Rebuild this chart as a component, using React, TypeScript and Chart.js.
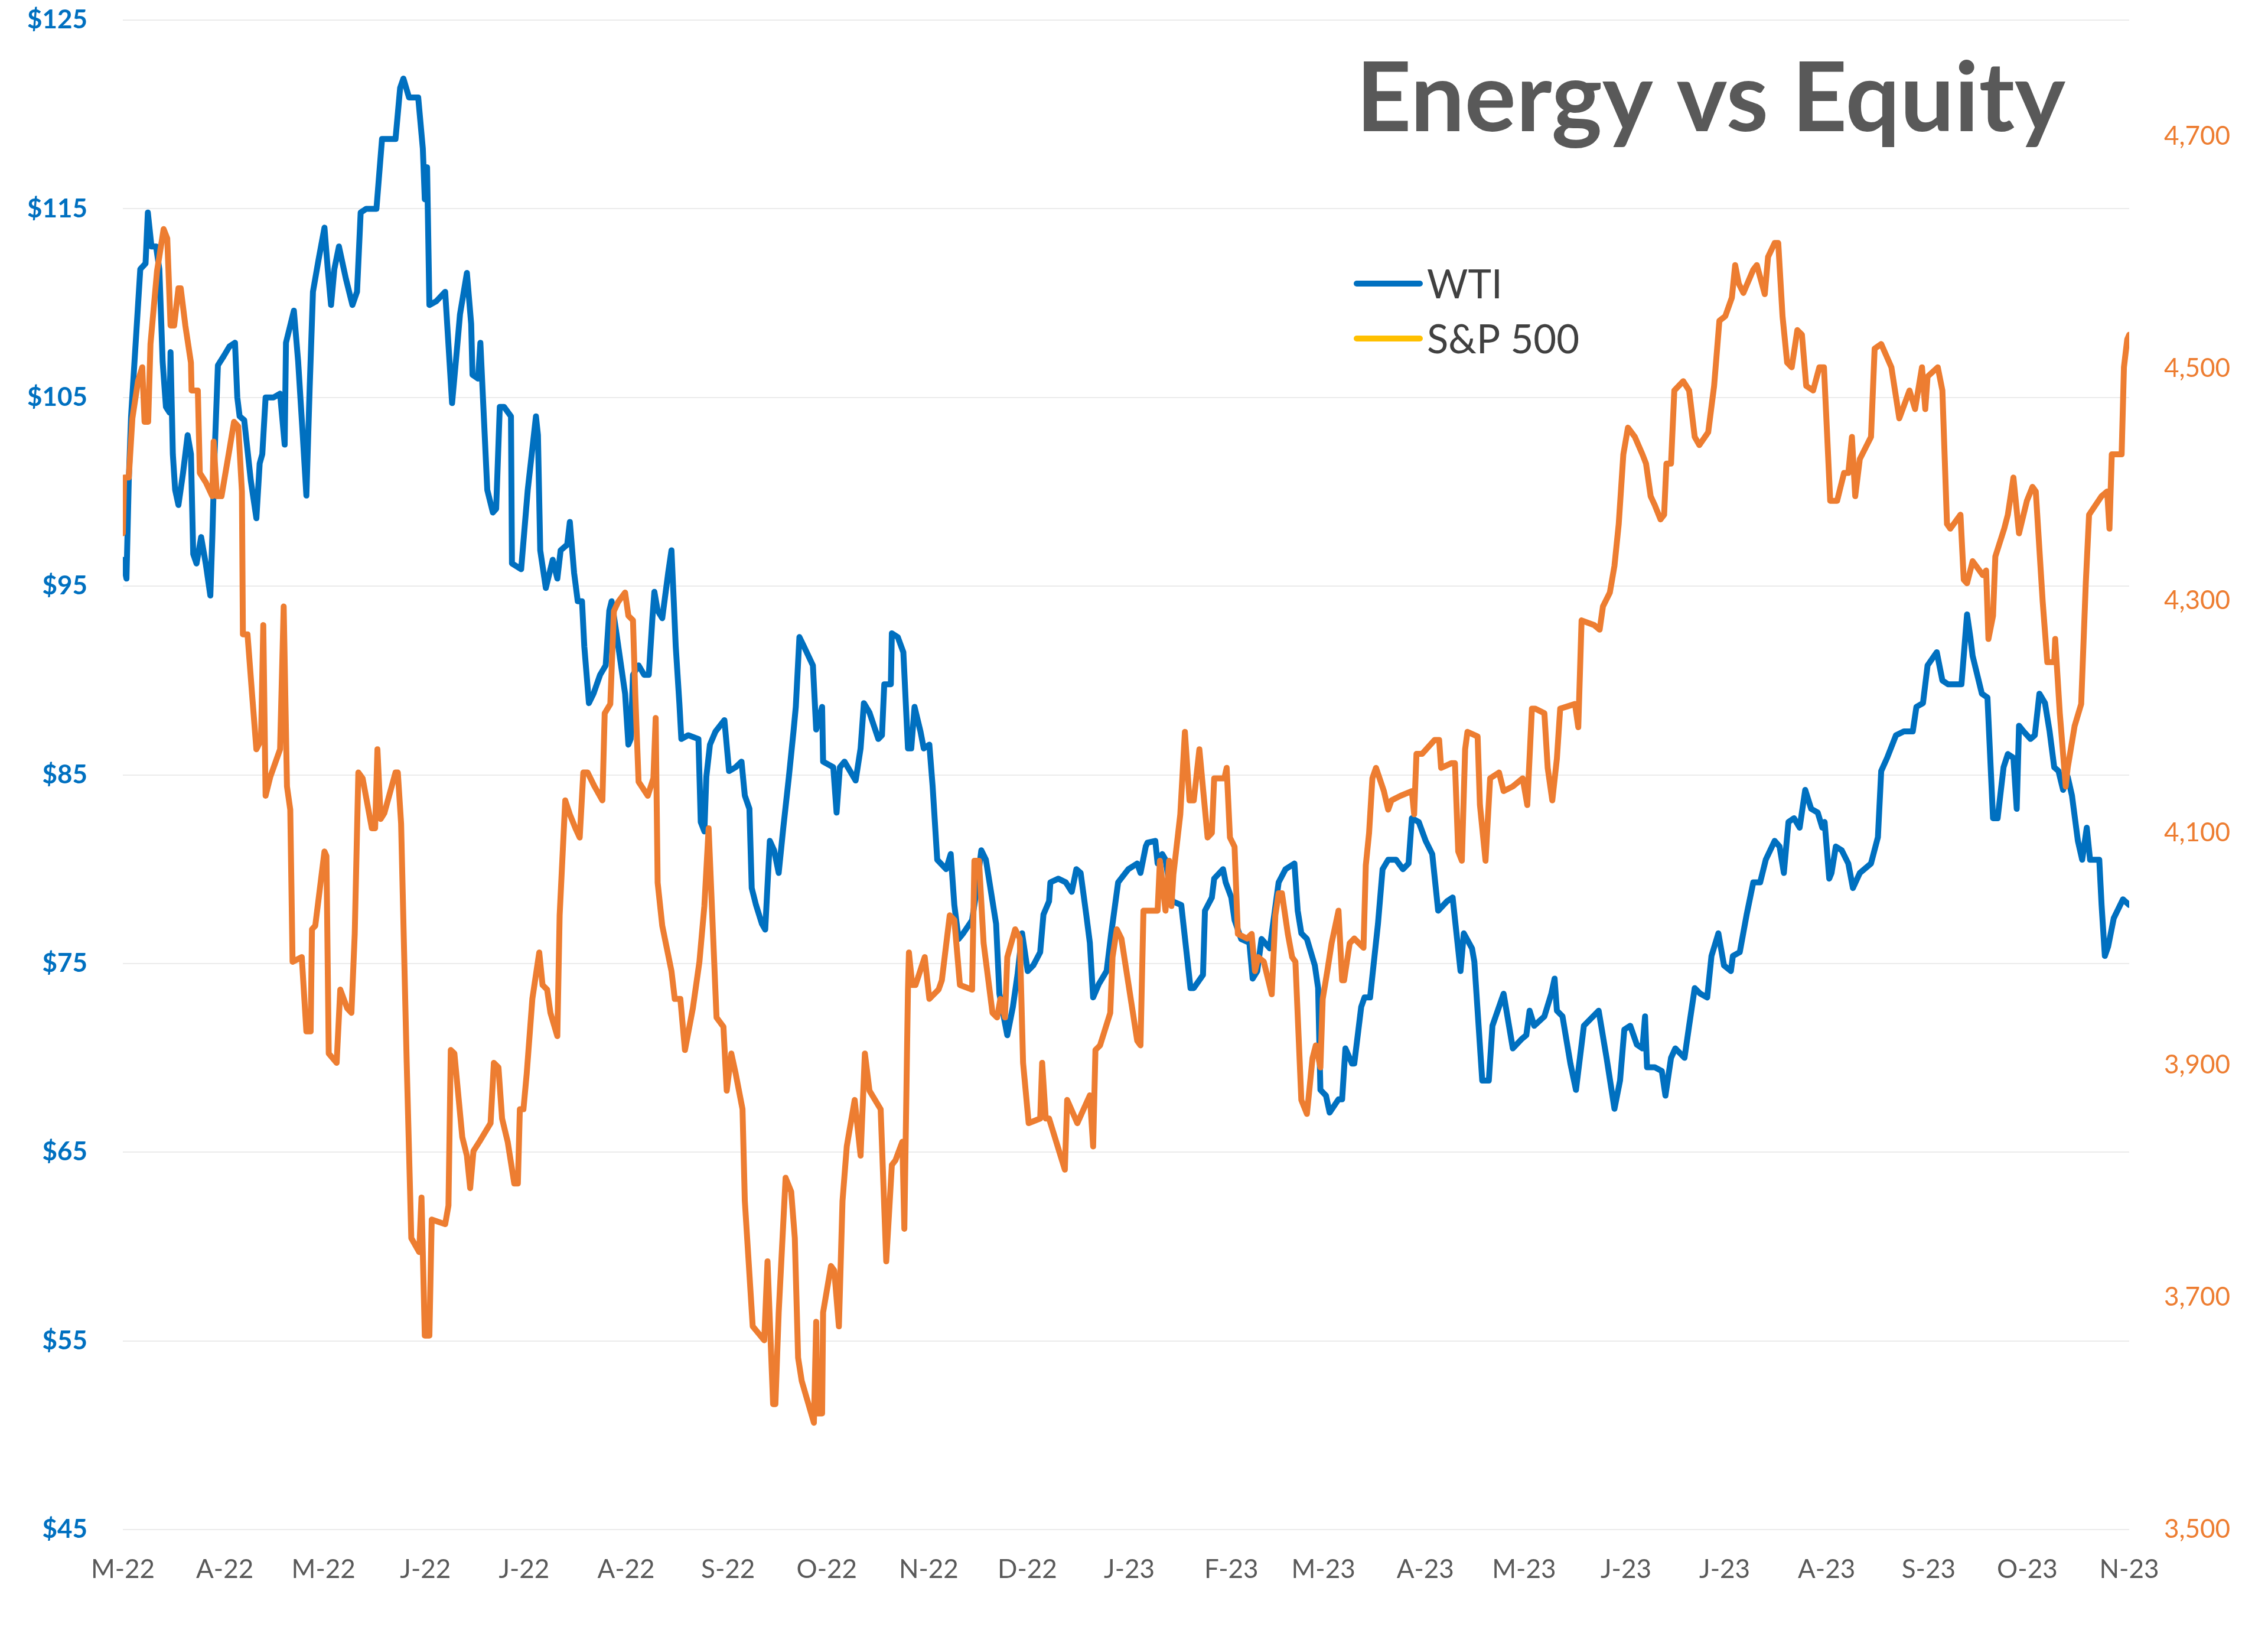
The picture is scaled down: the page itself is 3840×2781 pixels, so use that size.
import React, { useEffect, useRef } from "react";
import { Chart, registerables } from "chart.js";

Chart.register(...registerables);

// ---- Text ----
const chartTitle = "Energy vs Equity";
const wtiLabel = "WTI";
const spxLabel = "S&P 500";

// ---- X axis: days since 1 Mar 2022, month-start ticks ----
const monthTickDays = [0, 31, 61, 92, 122, 153, 184, 214, 245, 275, 306, 337, 365, 396, 426, 457, 487, 518, 549, 579, 610];
const monthTickLabels = ["M-22", "A-22", "M-22", "J-22", "J-22", "A-22", "S-22", "O-22", "N-22", "D-22", "J-23", "F-23", "M-23", "A-23", "M-23", "J-23", "J-23", "A-23", "S-23", "O-23", "N-23"];

// ---- Y axes ----
const wtiTicks = [45, 55, 65, 75, 85, 95, 105, 115, 125];
const spxTicks = [3500, 3700, 3900, 4100, 4300, 4500, 4700];

// ---- Series: [day since 1 Mar 2022, value] ----
const wtiPoints: [number, number][] = [
  [0,96.4],[1.1,95.4],[1.8,100.6],[2.5,104],[5.3,111.8],[6.9,112.1],[7.6,114.8],[8.7,113],[10.1,113],[11.1,111.8],[12.1,106.9],[13.1,104.5],[14.2,104.2],[14.5,107.4],[15.2,102],[15.9,100.1],[16.9,99.3],[18.3,101],[19.7,103],[20.7,102],[21.4,96.7],[22.4,96.2],[23.8,97.6],[25.2,96.2],[26.6,94.5],[27.2,97.6],[27.9,102],[28.9,106.7],[30.7,107.2],[32.4,107.7],[34.1,107.9],[34.8,105],[35.5,104],[36.9,103.8],[38.9,100.6],[40.6,98.6],[41.6,101.5],[42.4,102],[43.4,105],[45.8,105],[47.8,105.2],[49.2,102.5],[49.6,107.9],[52.0,109.6],[53.3,106.9],[54.7,103],[55.8,99.8],[56.8,105.5],[57.8,110.6],[59.5,112.3],[61.3,114],[62.3,111.8],[63.3,109.9],[64.3,111.8],[65.7,113],[67.8,111.3],[69.8,109.9],[71.2,110.6],[72.3,114.8],[74.0,115],[77.1,115],[78.8,118.7],[82.9,118.7],[84.3,121.4],[85.3,121.9],[87.0,120.9],[89.8,120.9],[91.2,118.2],[91.8,115.5],[92.5,117.2],[93.2,109.9],[95.3,110.1],[98.0,110.6],[100.1,104.7],[101.5,107.4],[102.5,109.4],[104.6,111.6],[105.9,108.9],[106.3,106.2],[108.0,106],[108.7,107.9],[110.8,100.1],[112.5,98.9],[113.5,99.1],[114.6,104.5],[115.9,104.5],[118.0,104],[118.3,96.2],[121.1,95.9],[123.1,100.1],[125.6,104],[126.2,103],[126.9,96.9],[128.6,94.9],[130.7,96.4],[132.1,95.4],[133.1,96.9],[135.1,97.2],[135.9,98.4],[137.2,95.7],[138.3,94.2],[139.6,94.2],[140.3,91.8],[141.7,88.8],[143.1,89.3],[145.1,90.3],[146.8,90.8],[147.9,93.7],[148.6,94.2],[149.9,92.7],[151.3,91],[152.7,89.3],[153.7,86.6],[154.4,86.9],[155.1,90.3],[156.8,90.8],[158.5,90.3],[159.9,90.3],[161.0,93.3],[161.6,94.7],[162.6,93.7],[164.0,93.3],[165.8,95.7],[166.8,96.9],[167.5,94.2],[168.1,91.8],[169.2,88.8],[169.8,86.9],[171.9,87.1],[175.0,86.9],[175.7,82.5],[176.8,82],[177.4,84.9],[178.5,86.6],[180.2,87.3],[182.9,87.9],[184.3,85.2],[186.3,85.4],[188.1,85.7],[189.1,83.9],[190.5,83.2],[191.2,79],[192.5,78.1],[194.3,77.1],[195.3,76.8],[196.7,81.5],[198.0,81],[199.4,79.8],[200.8,82.2],[202.5,84.9],[203.9,87.3],[204.6,88.6],[205.7,92.3],[207.1,91.8],[209.8,90.8],[210.8,87.4],[212.6,88.6],[212.9,85.7],[216.0,85.4],[217.0,83],[218.0,85.4],[219.4,85.7],[222.8,84.7],[224.3,86.4],[225.3,88.8],[227.0,88.3],[229.7,86.9],[230.8,87.1],[231.5,89.8],[233.5,89.8],[233.8,92.5],[235.6,92.3],[237.3,91.5],[238.7,86.4],[239.7,86.4],[240.7,88.6],[242.5,87.3],[243.5,86.4],[245.2,86.6],[246.2,84.4],[247.6,80.5],[250.3,80],[251.7,80.8],[252.8,78.1],[254.1,76.3],[255.5,76.6],[258.2,77.3],[259.3,78.6],[261.0,81],[262.4,80.5],[265.5,77.1],[266.5,73.4],[268.9,71.2],[270.6,72.7],[272.0,74.4],[273.4,76.6],[275.1,74.6],[276.8,74.9],[278.9,75.6],[279.9,77.6],[281.6,78.3],[282.0,79.3],[284.4,79.5],[286.7,79.3],[288.5,78.8],[289.9,80],[291.2,79.8],[292.9,77.6],[294.0,76.1],[295.0,73.2],[296.7,73.9],[299.1,74.6],[300.5,76.6],[302.6,79.3],[305.7,80],[308.4,80.3],[309.4,79.8],[311.0,81.2],[311.5,81.4],[313.9,81.5],[314.6,80.3],[316.0,80.8],[317.0,80.5],[318.1,79.3],[319.1,78.3],[321.8,78.1],[324.6,73.7],[325.6,73.7],[328.4,74.4],[329.0,77.8],[331.1,78.5],[331.8,79.5],[334.5,80],[335.3,79.3],[337.0,78.5],[338.0,77.3],[340.0,76.3],[342.5,76.1],[343.5,74.2],[344.9,74.6],[346.2,76.3],[348.7,75.8],[349.3,76.6],[351.4,79.3],[353.5,80],[356.2,80.3],[357.2,77.8],[358.3,76.6],[360.0,76.3],[362.4,74.9],[363.4,73.7],[364.1,68.3],[365.8,68],[366.9,67.1],[369.6,67.8],[370.7,67.8],[371.7,70.5],[373.7,69.7],[374.4,69.7],[376.5,72.7],[377.5,73.2],[379.2,73.2],[381.6,77.1],[383.0,80],[384.7,80.5],[387.1,80.5],[389.2,80],[390.9,80.3],[391.9,82.7],[394.0,82.5],[396.1,81.5],[398.1,80.8],[399.9,77.8],[402.6,78.3],[404.3,78.5],[406.7,74.6],[407.7,76.6],[410.2,75.8],[410.9,75.1],[413.3,68.8],[415.3,68.8],[416.4,71.7],[419.8,73.4],[422.6,70.5],[425.3,71],[426.7,71.2],[427.7,72.5],[429.1,71.7],[432.2,72.2],[434.3,73.4],[435.3,74.2],[436.0,72.5],[437.7,72.2],[440.1,69.7],[441.8,68.3],[444.2,71.7],[448.7,72.5],[451.1,70],[453.5,67.3],[455.2,68.8],[456.5,71.5],[458.3,71.7],[460.3,70.7],[462.0,70.5],[462.8,72.2],[463.4,69.5],[465.8,69.5],[467.9,69.3],[469.0,68],[470.7,70],[472.0,70.5],[474.8,70],[476.2,71.7],[477.9,73.7],[479.6,73.4],[481.7,73.2],[483.0,75.4],[485.1,76.6],[486.8,74.9],[488.9,74.6],[489.5,75.4],[491.6,75.6],[493.7,77.6],[495.7,79.3],[497.8,79.3],[499.5,80.5],[502.2,81.5],[503.7,81.2],[505.0,79.8],[506.4,82.5],[508.1,82.7],[509.8,82.2],[511.5,84.2],[513.3,83.2],[515.3,83],[516.7,82.2],[517.4,82.5],[518.8,79.5],[519.5,79.8],[520.8,81.2],[522.6,81],[524.6,80.3],[526.0,79],[528.1,79.8],[531.5,80.3],[533.6,81.7],[534.6,85.2],[536.4,85.9],[539.1,87.1],[541.5,87.3],[544.2,87.3],[545.3,88.6],[547.3,88.8],[548.7,90.8],[551.5,91.5],[553.2,90],[554.9,89.8],[559.0,89.8],[560.7,93.5],[561.7,92.3],[562.4,91.3],[565.2,89.3],[566.9,89.1],[568.6,82.7],[570.0,82.7],[571.8,85.4],[573.1,86.1],[574.8,85.9],[575.8,83.2],[576.5,87.6],[577.9,87.3],[580.0,86.9],[581.3,87.1],[582.7,89.3],[584.4,88.8],[585.8,87.3],[587.2,85.4],[588.5,85.2],[589.9,84.2],[591.3,84.9],[592.6,83.9],[594.4,81.5],[595.7,80.5],[597.1,82.2],[598.1,80.5],[600.9,80.5],[601.6,78.1],[602.6,75.4],[603.6,75.9],[605.3,77.4],[608.1,78.4],[610.0,78.1]
];

const spxPoints: [number, number][] = [
  [0,4358],[0.4,4406],[1.8,4406],[2.9,4457],[4.6,4489],[5.9,4501],[6.6,4454],[7.7,4454],[8.4,4521],[10.4,4584],[12.4,4620],[13.5,4612],[14.5,4537],[15.6,4537],[16.9,4569],[17.6,4569],[19.0,4537],[20.7,4505],[20.9,4481],[22.8,4481],[23.4,4410],[25.2,4402],[27.2,4390],[27.6,4437],[28.6,4390],[30.0,4390],[32.4,4430],[33.8,4454],[35.1,4450],[36.2,4394],[36.5,4271],[37.9,4271],[39.3,4219],[40.6,4172],[42.0,4180],[42.7,4279],[43.4,4132],[44.8,4148],[47.8,4172],[48.9,4295],[49.9,4140],[50.9,4120],[51.6,3989],[54.4,3993],[55.8,3929],[57.1,3929],[57.5,4017],[58.5,4020],[61.3,4084],[61.9,4080],[62.6,3910],[65.0,3902],[66.1,3965],[68.2,3949],[69.5,3945],[70.5,4013],[71.6,4152],[72.9,4147],[75.7,4104],[76.7,4104],[77.4,4172],[78.4,4112],[79.5,4117],[82.9,4152],[83.6,4152],[84.6,4108],[86.3,3902],[87.7,3751],[90.1,3739],[90.8,3786],[91.8,3667],[93.2,3667],[93.9,3767],[98.0,3763],[99.0,3779],[99.7,3913],[100.8,3910],[103.2,3838],[104.6,3822],[105.6,3794],[106.6,3826],[108.4,3834],[111.8,3850],[112.8,3902],[114.2,3898],[115.3,3854],[117.0,3834],[119.0,3798],[120.1,3798],[120.7,3862],[121.8,3862],[122.8,3893],[124.5,3957],[126.6,3997],[127.6,3969],[129.0,3965],[130.0,3945],[132.1,3925],[132.8,4029],[134.5,4128],[135.9,4116],[137.6,4104],[138.9,4096],[140.0,4152],[141.3,4152],[143.4,4140],[145.8,4128],[146.5,4203],[148.2,4211],[149.3,4291],[150.6,4299],[152.7,4307],[153.7,4287],[155.1,4283],[155.8,4219],[156.8,4144],[159.6,4132],[161.3,4147],[162.0,4199],[162.6,4057],[164.0,4020],[166.8,3981],[167.8,3957],[169.5,3957],[170.9,3913],[173.3,3949],[175.3,3989],[176.8,4037],[178.1,4104],[180.5,3941],[182.6,3933],[183.6,3878],[185.0,3910],[186.3,3893],[188.4,3862],[189.1,3783],[191.5,3675],[195.0,3663],[196.0,3731],[197.7,3608],[198.4,3608],[199.4,3687],[201.5,3803],[203.2,3791],[204.3,3751],[205.3,3648],[206.4,3628],[210.1,3592],[210.8,3679],[211.2,3600],[212.6,3600],[212.9,3687],[215.3,3727],[216.3,3723],[217.7,3675],[218.8,3783],[220.1,3830],[222.5,3870],[224.3,3822],[225.6,3910],[227.0,3878],[230.4,3862],[232.1,3731],[233.8,3814],[234.9,3818],[237.0,3834],[237.6,3759],[238.7,3965],[239.0,3997],[240.0,3969],[241.0,3969],[243.8,3993],[245.2,3957],[248.0,3965],[249.0,3973],[251.4,4029],[252.8,4025],[254.5,3969],[258.2,3965],[258.9,4076],[260.3,4076],[261.7,4005],[264.4,3945],[265.8,3941],[266.8,3957],[268.2,3941],[268.9,3993],[271.3,4017],[272.7,4009],[273.7,3902],[275.4,3850],[278.9,3854],[279.5,3902],[280.6,3854],[281.6,3854],[286.4,3810],[287.1,3870],[290.2,3850],[294.0,3874],[295.0,3830],[295.7,3913],[297.1,3917],[300.2,3945],[300.9,3993],[302.2,4017],[303.6,4009],[308.4,3921],[309.4,3917],[310.3,4033],[314.6,4033],[315.3,4076],[317.0,4033],[318.1,4076],[318.8,4037],[319.4,4064],[321.5,4116],[322.9,4187],[324.3,4128],[325.6,4128],[327.3,4172],[329.8,4096],[331.1,4100],[331.8,4147],[334.9,4147],[335.6,4156],[336.6,4096],[338.0,4088],[339.0,4013],[341.8,4009],[343.2,4013],[344.2,3981],[345.2,3993],[346.9,3989],[349.3,3961],[350.4,4029],[351.4,4048],[352.4,4048],[354.2,4013],[355.5,3993],[356.5,3989],[358.3,3870],[360.0,3858],[361.7,3906],[362.7,3917],[364.1,3898],[364.8,3957],[366.2,3981],[367.5,4005],[369.6,4033],[370.7,3973],[371.3,3973],[373.0,4005],[374.4,4009],[377.2,4001],[377.9,4072],[378.9,4100],[379.9,4147],[381.0,4156],[383.4,4136],[384.7,4120],[385.7,4128],[388.5,4132],[391.9,4136],[392.6,4116],[393.3,4168],[395.0,4168],[398.8,4180],[400.2,4180],[400.8,4156],[403.9,4160],[405.0,4160],[406.0,4084],[407.1,4076],[408.1,4172],[408.8,4187],[411.9,4183],[412.6,4124],[414.3,4076],[415.7,4147],[418.4,4152],[419.8,4136],[422.6,4140],[425.6,4147],[427.0,4124],[428.4,4207],[429.4,4207],[432.2,4203],[433.2,4156],[434.6,4128],[436.0,4164],[437.0,4207],[441.5,4211],[442.5,4191],[443.5,4283],[447.3,4279],[449.0,4275],[450.0,4295],[452.1,4307],[453.5,4330],[454.8,4366],[456.2,4426],[457.6,4449],[459.7,4441],[462.0,4426],[463.1,4418],[464.5,4390],[465.8,4382],[467.5,4370],[468.6,4374],[469.3,4418],[470.7,4418],[471.7,4481],[474.4,4489],[476.2,4481],[477.9,4441],[479.3,4434],[482.0,4445],[483.8,4485],[485.4,4541],[487.2,4545],[489.2,4561],[490.2,4589],[491.3,4573],[492.7,4565],[495.7,4585],[496.8,4589],[499.2,4564],[500.2,4596],[502.2,4608],[503.3,4608],[504.6,4545],[506.0,4505],[507.4,4501],[509.1,4533],[510.5,4529],[511.8,4485],[513.9,4481],[515.8,4501],[517.2,4501],[519.1,4386],[521.2,4386],[523.3,4410],[524.6,4410],[525.7,4441],[526.7,4390],[528.1,4422],[531.5,4441],[532.6,4517],[534.6,4521],[537.7,4501],[540.1,4457],[543.2,4481],[544.9,4465],[547.0,4501],[548.0,4465],[548.7,4493],[551.8,4501],[553.2,4481],[554.6,4366],[555.6,4362],[558.7,4374],[559.7,4318],[560.7,4315],[562.4,4334],[565.5,4322],[566.5,4326],[567.2,4267],[568.6,4287],[569.3,4338],[572.0,4362],[573.1,4374],[574.8,4406],[576.5,4358],[578.9,4386],[580.6,4398],[581.6,4394],[583.7,4299],[585.1,4247],[587.2,4247],[587.5,4267],[588.9,4203],[590.7,4140],[591.3,4156],[593.4,4192],[595.4,4211],[596.8,4315],[597.8,4374],[601.6,4390],[603.3,4394],[604.0,4362],[604.7,4426],[607.7,4426],[608.4,4501],[609.4,4525],[610.0,4529]
];

const BLUE = "#0070C0";
const ORANGE = "#ED7D31";
const LEGEND_GOLD = "#FFC000";

export default function App() {
  const ref = useRef<HTMLCanvasElement>(null);

  useEffect(() => {
    document.body.style.margin = "0";
    const canvas = ref.current;
    if (!canvas) return;

    const overlay = {
      id: "overlay",
      afterDraw(chart: any) {
        const ctx = chart.ctx;
        ctx.save();
        // Title
        ctx.fillStyle = "#595959";
        ctx.font = "bold 163px Lato";
        ctx.textAlign = "left";
        ctx.textBaseline = "alphabetic";
        ctx.fillText(chartTitle, 2296, 222);
        // Legend
        const items = [
          { label: wtiLabel, color: BLUE, y: 480 },
          { label: spxLabel, color: LEGEND_GOLD, y: 573 },
        ];
        ctx.font = "67px Lato";
        ctx.fillStyle = "#404040";
        for (const it of items) {
          ctx.strokeStyle = it.color;
          ctx.lineWidth = 10;
          ctx.lineCap = "round";
          ctx.beginPath();
          ctx.moveTo(2297, it.y);
          ctx.lineTo(2404, it.y);
          ctx.stroke();
          ctx.fillText(it.label, 2416, it.y + 25);
        }
        ctx.restore();
      },
    };

    const noVerticalPad = (width: number) => (s: any) => {
      s.width = width;
      s.paddingTop = 0;
      s.paddingBottom = 0;
    };

    const chart = new Chart(canvas, {
      type: "line",
      data: {
        datasets: [
          {
            label: wtiLabel,
            data: wtiPoints.map(([x, y]) => ({ x, y })),
            yAxisID: "yL",
            borderColor: BLUE,
            backgroundColor: BLUE,
            borderWidth: 10,
            pointRadius: 0,
            tension: 0,
            borderJoinStyle: "round",
            borderCapStyle: "round",
            order: 1,
          },
          {
            label: spxLabel,
            data: spxPoints.map(([x, y]) => ({ x, y })),
            yAxisID: "yR",
            borderColor: ORANGE,
            backgroundColor: ORANGE,
            borderWidth: 10,
            pointRadius: 0,
            tension: 0,
            borderJoinStyle: "round",
            borderCapStyle: "round",
            order: 0,
          },
        ],
      },
      options: {
        responsive: false,
        animation: false,
        devicePixelRatio: 1,
        layout: { padding: { top: 34, left: 0, right: 0, bottom: 0 } },
        plugins: {
          legend: { display: false },
          title: { display: false },
          tooltip: { enabled: false },
        },
        scales: {
          x: {
            type: "linear",
            min: 0,
            max: 610,
            grid: { display: false },
            border: { display: false },
            afterBuildTicks: (s: any) => {
              s.ticks = monthTickDays.map((v) => ({ value: v }));
            },
            afterFit: (s: any) => {
              s.height = 192;
            },
            ticks: {
              autoSkip: false,
              maxRotation: 0,
              minRotation: 0,
              padding: 33,
              color: "#595959",
              font: { family: "Lato", size: 44 },
              callback: (_v: any, i: number) => monthTickLabels[i],
            },
          },
          yL: {
            type: "linear",
            position: "left",
            min: 45,
            max: 125,
            border: { display: false },
            grid: { color: "#EBEBEB", lineWidth: 2, drawTicks: false },
            afterBuildTicks: (s: any) => {
              s.ticks = wtiTicks.map((v) => ({ value: v }));
            },
            afterFit: noVerticalPad(208),
            ticks: {
              autoSkip: false,
              padding: 60,
              color: BLUE,
              font: { family: "Lato", size: 44, weight: "bold" },
              callback: (v: any) => "$" + v,
            },
          },
          yR: {
            type: "linear",
            position: "right",
            min: 3500,
            max: 4800,
            border: { display: false },
            grid: { display: false, drawTicks: false },
            afterBuildTicks: (s: any) => {
              s.ticks = spxTicks.map((v) => ({ value: v }));
            },
            afterFit: noVerticalPad(235),
            ticks: {
              autoSkip: false,
              padding: 59,
              color: ORANGE,
              font: { family: "Lato", size: 44 },
              callback: (v: any) => Number(v).toLocaleString("en-US"),
            },
          },
        },
      } as any,
      plugins: [overlay],
    });

    return () => chart.destroy();
  }, []);

  return <canvas ref={ref} width={3840} height={2781} style={{ display: "block" }} />;
}
